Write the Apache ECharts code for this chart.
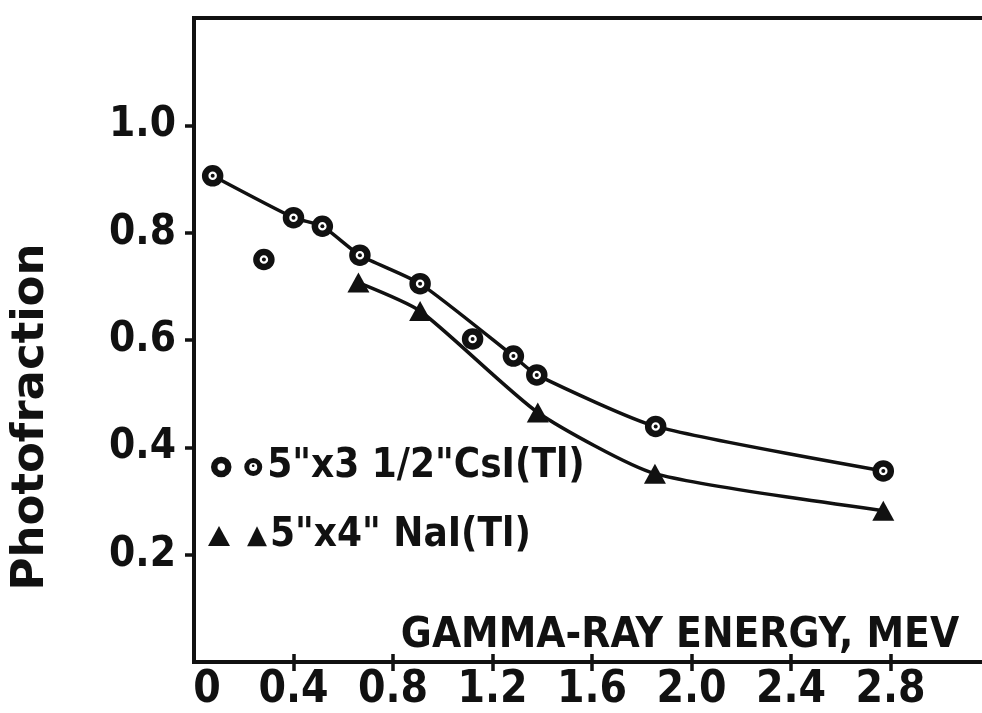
<!DOCTYPE html>
<html>
<head>
<meta charset="utf-8">
<script src="https://cdn.jsdelivr.net/npm/echarts@6/dist/echarts.min.js"></script>
<style>
html,body{margin:0;padding:0;background:#fff;overflow:hidden;}
#chart{width:990px;height:713px;}
</style>
</head>
<body>
<div id="chart"></div>
<script>
// ---- data ----
var csiName = '5"x3 1/2"CsI(Tl)';
var naiName = '5"x4" NaI(Tl)';
var csiEnergy = [0.075, 0.40, 0.516, 0.667, 0.909, 1.284, 1.378, 1.856, 2.771];
var csiPhoto  = [0.906, 0.828, 0.812, 0.758, 0.705, 0.570, 0.535, 0.439, 0.356];
var csiOffEnergy = [0.281, 1.12];
var csiOffPhoto  = [0.750, 0.602];
var naiEnergy = [0.661, 0.909, 1.382, 1.853, 2.771];
var naiPhoto  = [0.707, 0.654, 0.465, 0.351, 0.282];
var xTicks = [0.4, 0.8, 1.2, 1.6, 2.0, 2.4, 2.8];
var xLabels = [0, 0.4, 0.8, 1.2, 1.6, 2.0, 2.4, 2.8];
var yTicks = [0.2, 0.4, 0.6, 0.8, 1.0];
var xTitle = 'GAMMA-RAY ENERGY, MEV';
var yTitle = 'Photofraction';

function zip(a, b) { return a.map(function (v, i) { return [v, b[i]]; }); }
var csiLine = zip(csiEnergy, csiPhoto);
var csiOff = zip(csiOffEnergy, csiOffPhoto);
var naiLine = zip(naiEnergy, naiPhoto);

var FONT = "'DejaVu Sans Condensed', 'Liberation Sans Narrow', 'DejaVu Sans', sans-serif";
var INK = '#111';
var ringStyle = { color: '#fff', borderColor: INK, borderWidth: 6.5, opacity: 1 };

var chart = echarts.init(document.getElementById('chart'), null, { renderer: 'canvas' });

function xAxisBase() {
  return { type: 'value', min: 0, max: 3.2, interval: 0.4, splitLine: { show: false } };
}
function yAxisBase() {
  return { type: 'value', min: 0, max: 1.2, interval: 0.2, splitLine: { show: false } };
}

var option = {
  backgroundColor: '#fff',
  animation: false,
  grid: {
    left: 194, right: 0, top: 18, bottom: 50,
    show: true, borderColor: INK, borderWidth: 4, backgroundColor: 'transparent'
  },
  xAxis: [
    Object.assign(xAxisBase(), {
      position: 'bottom',
      axisLine: { show: false },
      axisTick: { show: true, length: 9, customValues: xTicks, lineStyle: { color: INK, width: 3.5 } },
      axisLabel: {
        customValues: xLabels,
        margin: 7,
        color: INK, fontFamily: FONT, fontWeight: 'bold', fontSize: 44,
        formatter: function (v) {
          if (Math.abs(v) < 1e-9) return '{z|0}';
          return v.toFixed(1);
        },
        rich: { z: { fontFamily: FONT, fontWeight: 'bold', fontSize: 44, color: INK, padding: [0, 0, 0, 26] } }
      },
      name: xTitle,
      nameLocation: 'middle',
      nameGap: -47,
      nameTextStyle: { color: INK, fontFamily: FONT, fontWeight: 'bold', fontSize: 42, padding: [0, 0, 0, 176] }
    }),
    Object.assign(xAxisBase(), {
      position: 'top',
      offset: -645,
      axisLine: { show: false },
      axisTick: { show: true, length: 9, customValues: xTicks, lineStyle: { color: INK, width: 3.5 } },
      axisLabel: { show: false }
    })
  ],
  yAxis: [
    Object.assign(yAxisBase(), {
      position: 'left',
      axisLine: { show: false },
      axisTick: { show: true, length: 9, customValues: yTicks, lineStyle: { color: INK, width: 3.5 } },
      axisLabel: {
        customValues: yTicks,
        margin: 18,
        color: INK, fontFamily: FONT, fontWeight: 'bold', fontSize: 42,
        formatter: function (v) { return v.toFixed(1); }
      },
      name: yTitle,
      nameLocation: 'middle',
      nameGap: 140,
      nameTextStyle: { color: INK, fontFamily: "'DejaVu Sans', sans-serif", fontWeight: 'bold', fontSize: 45, padding: [0, 154, 0, 0] }
    }),
    Object.assign(yAxisBase(), {
      position: 'right',
      offset: -796,
      axisLine: { show: false },
      axisTick: { show: true, length: 9, customValues: yTicks, lineStyle: { color: INK, width: 3.5 } },
      axisLabel: { show: false }
    })
  ],
  legend: [
    {
      data: [{ name: csiName, icon: 'circle', itemStyle: ringStyle }],
      left: 206, top: 442,
      itemWidth: 14, itemHeight: 14,
      selectedMode: false,
      formatter: function (n) { return '{g|\u00a0}{s|\u2022}{h|\u00a0}{t|' + n + '}'; },
      textStyle: {
        color: INK,
        rich: {
          g: { width: 16, fontSize: 10, lineHeight: 40 },
          h: { width: 10, fontSize: 10, lineHeight: 40 },
          s: {
            fontFamily: "'DejaVu Sans', sans-serif", fontSize: 9, lineHeight: 8, height: 8, width: 8,
            color: INK, align: 'center', verticalAlign: 'middle',
            backgroundColor: '#fff', borderColor: INK, borderWidth: 5, borderRadius: 10
          },
          t: { fontFamily: FONT, fontWeight: 'bold', fontSize: 40, color: INK, lineHeight: 40 }
        }
      }
    },
    {
      data: [{ name: naiName, icon: 'triangle', itemStyle: { color: INK } }],
      left: 203, top: 511,
      itemWidth: 22, itemHeight: 20,
      selectedMode: false,
      formatter: function (n) { return '{s|\u25B2}{t|' + n + '}'; },
      textStyle: {
        color: INK,
        rich: {
          s: { fontFamily: "'DejaVu Sans', sans-serif", fontSize: 26, color: INK, padding: [0, 3, 0, 12], lineHeight: 40 },
          t: { fontFamily: FONT, fontWeight: 'bold', fontSize: 40, color: INK, lineHeight: 40 }
        }
      }
    }
  ],
  series: [
    {
      name: csiName, type: 'line', data: csiLine, smooth: 0.2,
      symbol: 'circle', symbolSize: 15, showAllSymbol: true,
      lineStyle: { color: INK, width: 3.5 },
      itemStyle: ringStyle,
      z: 3
    },
    {
      name: csiName, type: 'scatter', data: csiOff,
      symbol: 'circle', symbolSize: 15,
      itemStyle: ringStyle,
      z: 3
    },
    {
      name: 'centres', type: 'scatter', data: csiLine.concat(csiOff),
      symbol: 'circle', symbolSize: 4, silent: true,
      itemStyle: { color: INK, opacity: 1 },
      z: 6
    },
    {
      name: naiName, type: 'line', data: naiLine, smooth: 0.2,
      symbol: 'triangle', symbolSize: [22, 20], showAllSymbol: true,
      lineStyle: { color: INK, width: 3.5 },
      itemStyle: { color: INK },
      z: 3
    }
  ]
};
chart.setOption(option);
</script>
</body>
</html>
